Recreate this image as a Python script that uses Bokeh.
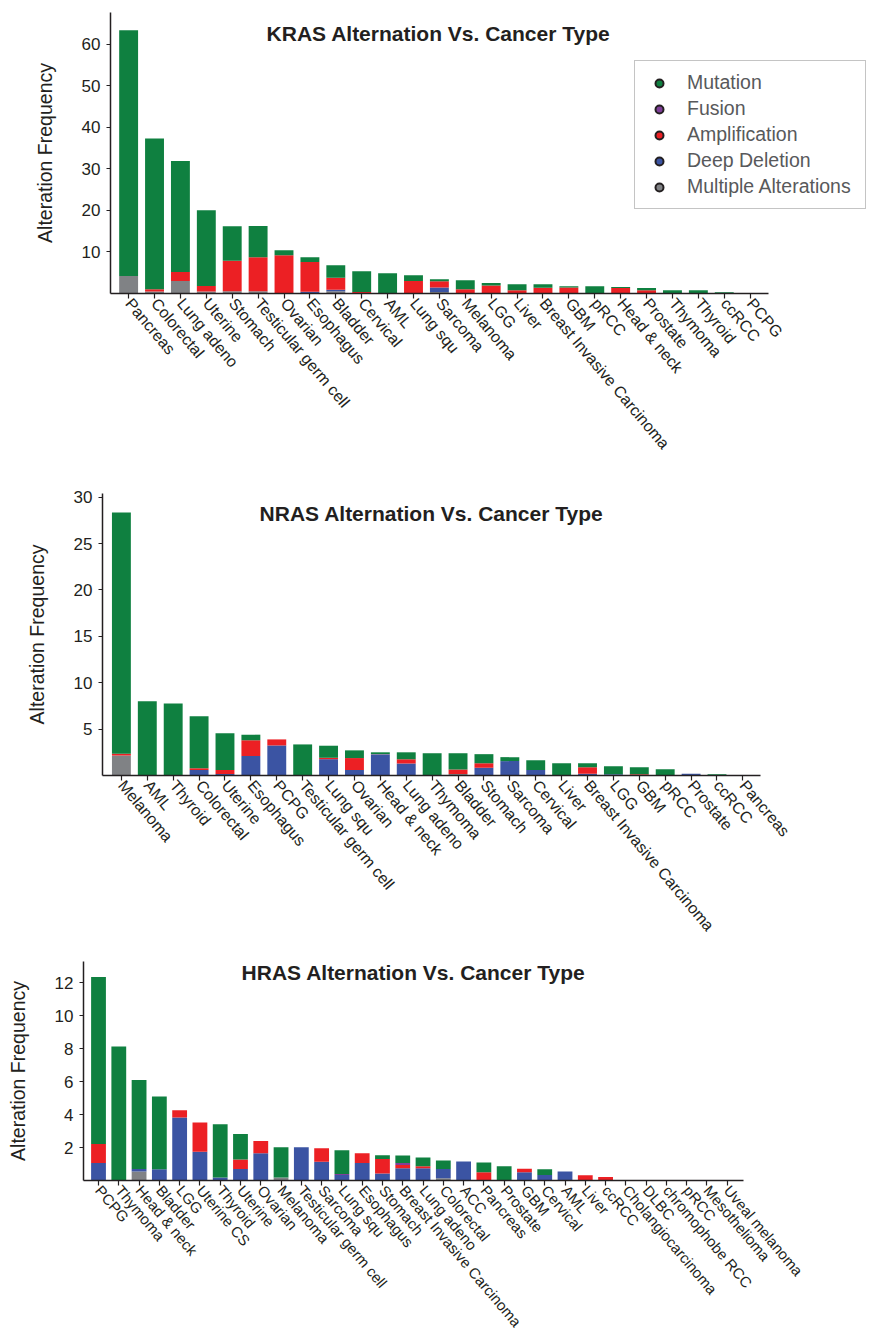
from bokeh.plotting import figure
from bokeh.models import (ColumnDataSource, Range1d, FixedTicker, Label, Legend, LegendItem)
from bokeh.layouts import column
from bokeh.embed import file_html
from bokeh.resources import INLINE

# ---------------- data ----------------
SERIES = ["Multiple Alterations", "Deep Deletion", "Amplification", "Fusion", "Mutation"]
LEGEND_ORDER = ["Mutation", "Fusion", "Amplification", "Deep Deletion", "Multiple Alterations"]
SERIES_COLORS = ["#808285", "#3b54a3", "#ec2024", "#7f3f98", "#0f8040"]

kras_cats = ["Pancreas", "Colorectal", "Lung adeno", "Uterine", "Stomach", "Testicular germ cell",
             "Ovarian", "Esophagus", "Bladder", "Cervical", "AML", "Lung squ", "Sarcoma", "Melanoma",
             "LGG", "Liver", "Breast Invasive Carcinoma", "GBM", "pRCC", "Head & neck", "Prostate",
             "Thymoma", "Thyroid", "ccRCC", "PCPG"]
kras_mut = [59.1, 36.3, 26.7, 18.2, 8.3, 7.5, 1.2, 1.1, 3.0, 5.0, 4.9, 1.4, 0.5, 2.2, 0.6, 1.45,
            0.8, 0.3, 1.75, 0.25, 0.5, 0.8, 0.8, 0.3, 0.1]
kras_fus = [0] * 25
kras_amp = [0, 0.5, 2.2, 1.3, 7.3, 8.2, 9.2, 7.2, 2.9, 0.25, 0, 3.0, 1.5, 1.0, 1.8, 0.8, 1.3, 1.4,
            0, 1.2, 0.75, 0, 0, 0, 0]
kras_deep = [0, 0, 0, 0, 0, 0, 0, 0.4, 0.35, 0, 0, 0, 1.1, 0, 0, 0, 0.1, 0, 0, 0.1, 0.05, 0, 0, 0, 0]
kras_multi = [4.2, 0.5, 3.0, 0.5, 0.55, 0.55, 0, 0, 0.55, 0.1, 0, 0, 0.35, 0, 0.1, 0, 0, 0.05,
              0, 0, 0, 0, 0, 0, 0]
kras_yticks = [10, 20, 30, 40, 50, 60]

nras_cats = ["Melanoma", "AML", "Thyroid", "Colorectal", "Uterine", "Esophagus", "PCPG",
             "Testicular germ cell", "Lung squ", "Ovarian", "Head & neck", "Lung adeno", "Thymoma",
             "Bladder", "Stomach", "Sarcoma", "Cervical", "Liver", "Breast Invasive Carcinoma", "LGG",
             "GBM", "pRCC", "Prostate", "ccRCC", "Pancreas"]
nras_mut = [26.0, 8.0, 7.77, 5.6, 3.95, 0.6, 0, 3.35, 1.3, 0.83, 0.2, 0.75, 2.4, 1.75, 0.97, 0.43,
            1.05, 1.33, 0.43, 0.87, 0.76, 0.68, 0, 0.14, 0]
nras_fus = [0, 0, 0, 0, 0, 0, 0, 0, 0, 0, 0.05, 0, 0, 0, 0, 0, 0, 0, 0, 0, 0, 0, 0, 0, 0]
nras_amp = [0.2, 0, 0, 0.2, 0.45, 1.7, 0.65, 0, 0.15, 1.3, 0, 0.45, 0, 0.5, 0.5, 0, 0, 0, 0.72, 0,
            0.14, 0, 0, 0, 0]
nras_deep = [0, 0, 0, 0.58, 0.15, 2.1, 3.24, 0, 1.76, 0.58, 2.25, 1.3, 0, 0, 0.83, 1.55, 0.6, 0,
             0.18, 0.14, 0, 0, 0.2, 0, 0]
nras_multi = [2.15, 0, 0, 0, 0, 0, 0, 0, 0, 0, 0, 0, 0, 0.15, 0, 0, 0, 0, 0, 0, 0, 0, 0, 0, 0]
nras_yticks = [5, 10, 15, 20, 25, 30]

hras_cats = ["PCPG", "Thymoma", "Head & neck", "Bladder", "LGG", "Uterine CS", "Thyroid", "Uterine",
             "Ovarian", "Melanoma", "Testicular germ cell", "Sarcoma", "Lung squ", "Esophagus",
             "Stomach", "Breast Invasive Carcinoma", "Lung adeno", "Colorectal", "ACC", "Pancreas",
             "Prostate", "GBM", "Cervical", "AML", "Liver", "ccRCC", "Cholangiocarcinoma", "DLBC",
             "chromophobe RCC", "pRCC", "Mesothelioma", "Uveal melanoma"]
hras_mut = [10.14, 8.14, 5.4, 4.42, 0, 0, 3.24, 1.54, 0, 1.84, 0, 0, 1.44, 0, 0.24, 0.46, 0.54,
            0.52, 0, 0.6, 0.86, 0, 0.34, 0, 0, 0, 0, 0, 0, 0, 0, 0]
hras_fus = [0, 0, 0, 0, 0, 0, 0, 0, 0, 0, 0, 0, 0.06, 0, 0, 0.12, 0, 0, 0, 0, 0, 0, 0, 0, 0, 0,
            0, 0, 0, 0, 0, 0]
hras_amp = [1.16, 0, 0, 0, 0.44, 1.78, 0, 0.58, 0.74, 0, 0, 0.82, 0, 0.6, 0.88, 0.2, 0.12, 0, 0,
            0.5, 0, 0.22, 0, 0, 0.32, 0.22, 0, 0, 0, 0, 0, 0]
hras_deep = [1.06, 0, 0.16, 0.68, 3.82, 1.74, 0.18, 0.7, 1.66, 0, 2.02, 1.14, 0.34, 1.06, 0.42,
             0.74, 0.74, 0.56, 1.16, 0, 0, 0.5, 0.34, 0.54, 0, 0, 0, 0, 0, 0, 0, 0]
hras_multi = [0, 0, 0.54, 0, 0, 0, 0, 0, 0, 0.18, 0, 0, 0, 0, 0, 0, 0, 0.14, 0, 0, 0, 0, 0, 0, 0,
              0, 0, 0, 0, 0, 0, 0]
hras_yticks = [2, 4, 6, 8, 10, 12]

FONT = "Liberation Sans"
TXT = "#231f20"


def make_chart(title, cats, multi, deep, amp, fus, mut, yticks, ymax, height,
               bl, br, bt, bb, xr, xbounds, xfont, title_x, title_dy, with_legend=False):
    idx = list(range(len(cats)))
    src = ColumnDataSource(dict(pos=idx, **{"Multiple Alterations": multi, "Deep Deletion": deep,
                                            "Amplification": amp, "Fusion": fus, "Mutation": mut}))
    width = 869
    p = figure(x_range=Range1d(*xr), y_range=Range1d(0, ymax), width=width, height=height,
               min_border_left=bl, min_border_right=br, min_border_top=bt, min_border_bottom=bb,
               output_backend="svg", toolbar_location=None, tools="", frame_align=False)
    p.outline_line_color = None
    p.xgrid.visible = False
    p.ygrid.visible = False
    p.vbar_stack(SERIES, x="pos", width=0.73, source=src,
                 fill_color=SERIES_COLORS, line_color=None)

    for ax in (p.xaxis[0], p.yaxis[0]):
        ax.axis_line_color = TXT
        ax.axis_line_width = 1.5
        ax.major_tick_line_color = TXT
        ax.major_tick_line_width = 1.2
        ax.major_tick_in = 0
        ax.minor_tick_line_color = None
    p.xaxis.ticker = FixedTicker(ticks=idx)
    p.xaxis.major_label_overrides = {i: c for i, c in zip(idx, cats)}
    p.xaxis.bounds = xbounds
    p.xaxis.major_tick_out = 5
    p.xaxis.major_label_orientation = -0.87
    p.xaxis.major_label_text_font = FONT
    p.xaxis.major_label_text_font_size = xfont
    p.xaxis.major_label_text_color = TXT
    p.xaxis.major_label_standoff = 2

    p.yaxis.ticker = FixedTicker(ticks=yticks)
    p.yaxis.major_tick_out = 4
    p.yaxis.major_label_standoff = 6
    p.yaxis.major_label_text_font = FONT
    p.yaxis.major_label_text_font_size = "17px"
    p.yaxis.major_label_text_color = TXT
    p.yaxis.axis_label = "Alteration Frequency"
    p.yaxis.axis_label_text_font = FONT
    p.yaxis.axis_label_text_font_size = "19.5px"
    p.yaxis.axis_label_text_font_style = "normal"
    p.yaxis.axis_label_text_color = TXT
    p.yaxis.axis_label_standoff = 23

    fh = height - bt - bb
    p.add_layout(Label(x=title_x, y=fh - title_dy, x_units="screen", y_units="screen", text=title,
                       text_align="center", text_baseline="middle", text_font=FONT,
                       text_font_size="21px", text_font_style="bold", text_color=TXT))

    if with_legend:
        by_name = dict(zip(SERIES, SERIES_COLORS))
        items = []
        for name in LEGEND_ORDER:
            r = p.scatter(x=[0], y=[float("nan")], marker="circle", size=8,
                          fill_color=by_name[name], line_color="#231f20", line_width=2)
            items.append(LegendItem(label=name, renderers=[r]))
        leg = Legend(items=items, location=(524, 84), orientation="vertical",
                     glyph_width=28, glyph_height=20, label_height=20, label_width=168,
                     spacing=3, padding=10, label_standoff=14, margin=0,
                     label_text_font=FONT, label_text_font_size="19.5px",
                     label_text_color="#58595b", border_line_color="#8a8a8a",
                     border_line_width=1, background_fill_color="white",
                     background_fill_alpha=1.0)
        p.add_layout(leg, "center")
    return p


p1 = make_chart("KRAS Alternation Vs. Cancer Type", kras_cats, kras_multi, kras_deep, kras_amp,
                kras_fus, kras_mut, kras_yticks, 67.6, 470, 110, 1, 12, 177,
                (-0.7, 28.57), (-0.7, 24.7), "16px", 328, 21, with_legend=True)
p2 = make_chart("NRAS Alternation Vs. Cancer Type", nras_cats, nras_multi, nras_deep, nras_amp,
                nras_fus, nras_mut, nras_yticks, 30.4, 485, 102, 109, 23, 180,
                (-0.73, 24.68), (-0.73, 24.68), "16px", 329, 19.5)
p3 = make_chart("HRAS Alternation Vs. Cancer Type", hras_cats, hras_multi, hras_deep, hras_amp,
                hras_fus, hras_mut, hras_yticks, 13.3, 383, 83, 126, 6, 155,
                (-0.74, 31.8), (-0.74, 31.8), "15px", 330, 14)

layout = column(p1, p2, p3, spacing=0)
open("out.html", "w").write(file_html(layout, INLINE))
